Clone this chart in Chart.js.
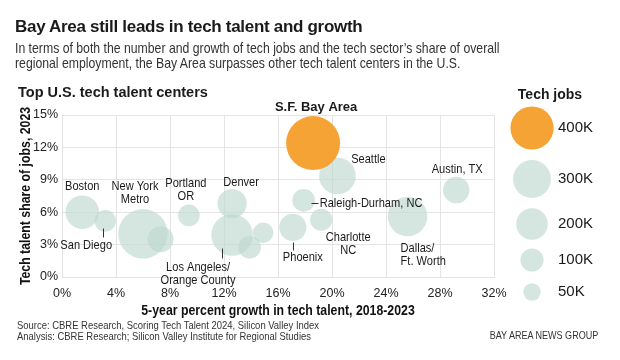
<!DOCTYPE html>
<html lang="en">
<head>
<meta charset="UTF-8" />
<title>Bay Area still leads in tech talent and growth</title>
<script src="https://cdn.jsdelivr.net/npm/chart.js"></script>
<style>
  body { margin: 0; background: #fff; color: #1a1a1a; font-family: 'Liberation Sans', sans-serif; }
  .wrap { position: relative; width: 620px; height: 360px; overflow: hidden; }
  .wrap canvas { position: absolute; left: 0; top: 0; }
  .title { position: absolute; left: 15px; top: 17px; font: bold 17px 'Liberation Sans', sans-serif; letter-spacing: -0.3px; white-space: nowrap; }
  .sub { position: absolute; left: 15px; top: 41px; font: 14.5px/14.5px 'Liberation Sans', sans-serif; color: #333; white-space: nowrap; transform: scaleX(0.845); transform-origin: left top; }
  .section { position: absolute; left: 18px; top: 84px; font: bold 14.5px 'Liberation Sans', sans-serif; white-space: nowrap; }
  .source { position: absolute; left: 17px; top: 320px; font: 10.5px/10.5px 'Liberation Sans', sans-serif; color: #333; white-space: nowrap; transform: scaleX(0.9); transform-origin: left top; }
  .credit { position: absolute; right: 22px; top: 329px; font: 10.5px 'Liberation Sans', sans-serif; color: #333; white-space: nowrap; transform: scaleX(0.86); transform-origin: right top; }
</style>
</head>
<body>
<div class="wrap">
  <canvas id="talent" width="620" height="360"></canvas>
  <div class="title">Bay Area still leads in tech talent and growth</div>
  <div class="sub">In terms of both the number and growth of tech jobs and the tech sector’s share of overall<br>regional employment, the Bay Area surpasses other tech talent centers in the U.S.</div>
  <div class="section">Top U.S. tech talent centers</div>
  <div class="source">Source: CBRE Research, Scoring Tech Talent 2024, Silicon Valley Index<br>Analysis: CBRE Research; Silicon Valley Institute for Regional Studies</div>
  <div class="credit">BAY AREA NEWS GROUP</div>
</div>
<script>
  // data (x = 5-yr growth %, y = share of jobs %, jobs in thousands)
  const cities = ['S.F. Bay Area', 'Boston', 'San Diego', 'New York Metro', '', 'Portland OR', 'Denver',
    'Los Angeles/Orange County', '', '', 'Phoenix', 'Raleigh-Durham, NC', 'Charlotte NC', 'Seattle',
    'Dallas/Ft. Worth', 'Austin, TX'];
  const growth = [18.6, 1.5, 3.2, 6.0, 7.3, 9.4, 12.6, 12.6, 13.9, 14.9, 17.1, 17.9, 19.2, 20.4, 25.6, 29.2];
  const share = [12.4, 6.0, 5.2, 4.0, 3.5, 5.7, 6.8, 3.9, 2.75, 4.1, 4.6, 7.1, 5.3, 9.35, 5.6, 8.05];
  const jobs = [645, 230, 85, 535, 130, 85, 170, 370, 95, 75, 145, 95, 90, 280, 330, 135];

  const xTicks = [0, 4, 8, 12, 16, 20, 24, 28, 32];
  const yTicks = [0, 3, 6, 9, 12, 15];
  const legendJobs = [400, 300, 200, 100, 50];

  const xTitle = '5-year percent growth in tech talent, 2018-2023';
  const yTitle = 'Tech talent share of jobs, 2023';

  const highlight = 'S.F. Bay Area';
  const ORANGE = '#f6a335';
  const TEAL = 'rgba(190, 216, 209, 0.65)';

  // bubble radius in px from thousands of jobs
  const radiusFor = k => 1.6 + Math.sqrt(k);

  const points = cities.map((c, i) => ({ x: growth[i], y: share[i], r: radiusFor(jobs[i]), city: c }));

  // label placement, offsets in px from the bubble centre
  const labelPlacement = [
    { city: 'S.F. Bay Area', lines: ['S.F. Bay Area'], dx: 3, dy: -36, bold: true },
    { city: 'Boston', lines: ['Boston'], dx: 0, dy: -26 },
    { city: 'New York Metro', lines: ['New York', 'Metro'], dx: -8, dy: -48 },
    { city: 'Portland OR', lines: ['Portland', 'OR'], dx: -3, dy: -32 },
    { city: 'Denver', lines: ['Denver'], dx: 9, dy: -21 },
    { city: 'San Diego', lines: ['San Diego'], dx: -19, dy: 24, leader: [-2, 7, -2, 16] },
    { city: 'Los Angeles/Orange County', lines: ['Los Angeles/', 'Orange County'], dx: -34, dy: 32, leader: [-10, 13, -10, 23] },
    { city: 'Seattle', lines: ['Seattle'], dx: 31, dy: -17 },
    { city: 'Austin, TX', lines: ['Austin, TX'], dx: 1, dy: -21 },
    { city: 'Raleigh-Durham, NC', lines: ['Raleigh-Durham, NC'], dx: 16, dy: 3, align: 'left', leader: [7, 3, 14, 3] },
    { city: 'Charlotte NC', lines: ['Charlotte', 'NC'], dx: 27, dy: 18 },
    { city: 'Phoenix', lines: ['Phoenix'], dx: 10, dy: 30, leader: [0, 15, 0, 23] },
    { city: 'Dallas/Ft. Worth', lines: ['Dallas/', 'Ft. Worth'], dx: -7, dy: 32, align: 'left' }
  ];
  const legendRows = [128, 179, 224, 260, 292];

  // text squeezed horizontally, to stand in for the condensed face of the original
  function narrowText(ctx, text, x, y, squeeze, angle) {
    ctx.save();
    ctx.translate(x, y);
    if (angle) ctx.rotate(angle);
    ctx.scale(squeeze, 1);
    ctx.fillText(text, 0, 0);
    ctx.restore();
  }

  const cityLabels = {
    id: 'cityLabels',
    afterDatasetsDraw(chart) {
      const { ctx, chartArea, scales: { x, y } } = chart;
      ctx.save();
      ctx.fillStyle = '#1a1a1a';
      ctx.strokeStyle = '#333';
      ctx.lineWidth = 1;
      ctx.textBaseline = 'middle';
      labelPlacement.forEach(p => {
        const i = cities.indexOf(p.city);
        const cx = x.getPixelForValue(growth[i]);
        const cy = y.getPixelForValue(share[i]);
        ctx.textAlign = p.align || 'center';
        if (p.bold) {
          ctx.font = 'bold 13px "Liberation Sans"';
          ctx.fillText(p.lines[0], cx + p.dx, cy + p.dy);
        } else {
          ctx.font = '13.5px "Liberation Sans"';
          p.lines.forEach((t, k) => narrowText(ctx, t, cx + p.dx, cy + p.dy + k * 13, 0.82));
        }
        if (p.leader) {
          const l = p.leader;
          ctx.beginPath();
          ctx.moveTo(Math.round(cx + l[0]) + 0.5, Math.round(cy + l[1]) + 0.5);
          ctx.lineTo(Math.round(cx + l[2]) + 0.5, Math.round(cy + l[3]) + 0.5);
          ctx.stroke();
        }
      });

      // axis titles
      ctx.fillStyle = '#111';
      ctx.textAlign = 'center';
      ctx.font = 'bold 15px "Liberation Sans"';
      narrowText(ctx, xTitle, (chartArea.left + chartArea.right) / 2, 311, 0.82);
      narrowText(ctx, yTitle, 26, (chartArea.top + chartArea.bottom) / 2, 0.82, -Math.PI / 2);

      // size legend
      ctx.fillStyle = '#1a1a1a';
      ctx.font = 'bold 14px "Liberation Sans"';
      ctx.fillText('Tech jobs', 550, 95);
      ctx.textAlign = 'left';
      ctx.font = '15px "Liberation Sans"';
      legendJobs.forEach((k, i) => {
        ctx.beginPath();
        ctx.fillStyle = i === 0 ? ORANGE : TEAL;
        ctx.arc(532, legendRows[i], radiusFor(k), 0, Math.PI * 2);
        ctx.fill();
        ctx.fillStyle = '#1a1a1a';
        ctx.fillText(k + 'K', 558, legendRows[i]);
      });
      ctx.restore();
    }
  };

  const tickFont = { family: 'Liberation Sans', size: 12.5 };

  new Chart(document.getElementById('talent'), {
    type: 'bubble',
    data: {
      datasets: [
        {
          label: 'S.F. Bay Area',
          data: points.filter(p => p.city === highlight),
          backgroundColor: ORANGE,
          borderWidth: 0
        },
        {
          label: 'Other tech talent centers',
          data: points.filter(p => p.city !== highlight),
          backgroundColor: TEAL,
          borderWidth: 0
        }
      ]
    },
    options: {
      responsive: false,
      animation: false,
      layout: { padding: { left: 0, right: 126, top: 115, bottom: 41 } },
      plugins: { legend: { display: false }, tooltip: { enabled: false } },
      scales: {
        x: {
          min: 0, max: 32,
          afterFit(s) { s.height = 42; },
          afterBuildTicks(s) { s.ticks = xTicks.map(v => ({ value: v })); },
          grid: { color: '#e4e4e4', drawTicks: false },
          border: { color: '#e4e4e4' },
          ticks: { padding: 9, color: '#222', font: tickFont, callback: v => v + '%' }
        },
        y: {
          min: 0, max: 15,
          afterFit(s) { s.width = 62; },
          afterBuildTicks(s) { s.ticks = yTicks.map(v => ({ value: v })); },
          grid: { color: '#e4e4e4', drawTicks: false },
          border: { color: '#e4e4e4' },
          ticks: { padding: 4, color: '#222', font: tickFont, callback: v => v + '%' }
        }
      }
    },
    plugins: [cityLabels]
  });
</script>
</body>
</html>
